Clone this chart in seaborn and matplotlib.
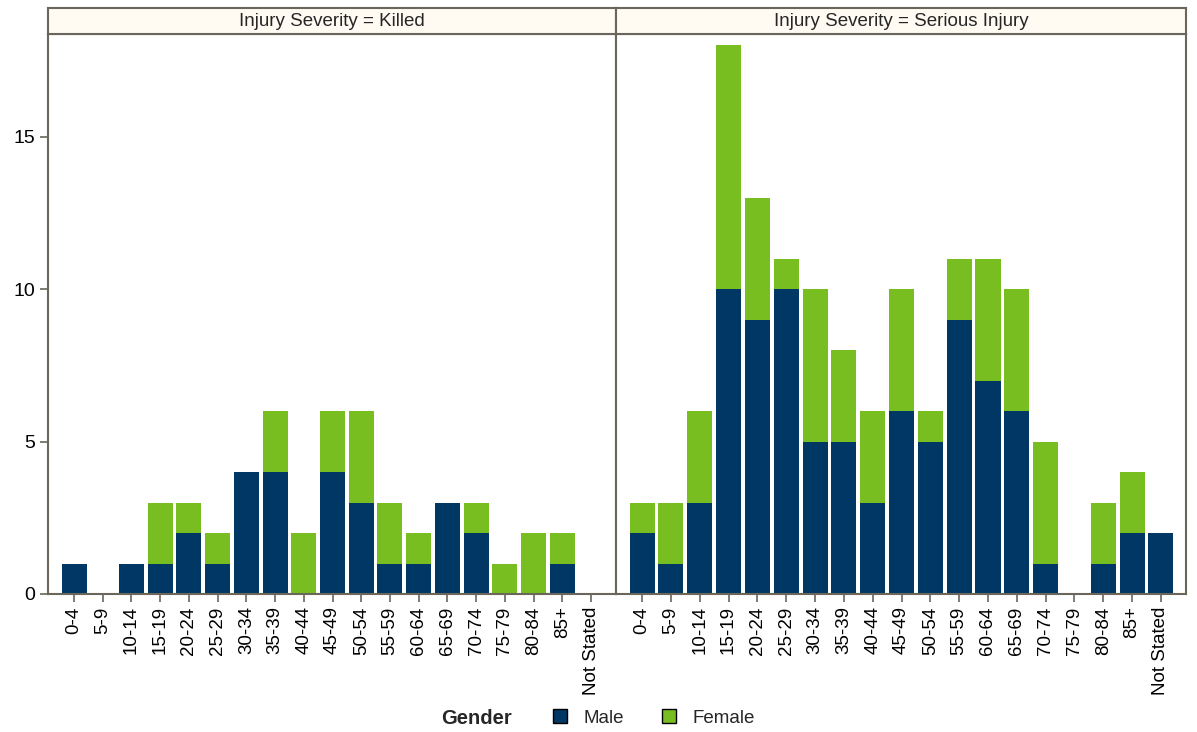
import matplotlib
matplotlib.use("Agg")
import matplotlib.pyplot as plt
import seaborn as sns
import pandas as pd
from matplotlib.patches import Patch

age_groups = ["0-4", "5-9", "10-14", "15-19", "20-24", "25-29", "30-34", "35-39",
              "40-44", "45-49", "50-54", "55-59", "60-64", "65-69", "70-74", "75-79",
              "80-84", "85+", "Not Stated"]
killed_male = [1, 0, 1, 1, 2, 1, 4, 4, 0, 4, 3, 1, 1, 3, 2, 0, 0, 1, 0]
killed_female = [0, 0, 0, 2, 1, 1, 0, 2, 2, 2, 3, 2, 1, 0, 1, 1, 2, 1, 0]
serious_male = [2, 1, 3, 10, 9, 10, 5, 5, 3, 6, 5, 9, 7, 6, 1, 0, 1, 2, 2]
serious_female = [1, 2, 3, 8, 4, 1, 5, 3, 3, 4, 1, 2, 4, 4, 4, 0, 2, 2, 0]
panels = ["Killed", "Serious Injury"]

NAVY = "#003764"
GREEN = "#78BE20"
SPINE = "#6B665C"

sns.set_theme(style="white")
plt.rcParams["font.family"] = ["Liberation Sans", "DejaVu Sans"]

W, H = 1197, 732
fig = plt.figure(figsize=(W / 100, H / 100), dpi=100)

def fx(px):
    return px / W

def fy(py):
    return 1 - py / H

top_px, bot_px = 34, 594
lefts = [(48, 616), (616, 1186)]
data = [(killed_male, killed_female), (serious_male, serious_female)]

for i, ((l, r), (male, female), name) in enumerate(zip(lefts, data, panels)):
    ax = fig.add_axes([fx(l), fy(bot_px), fx(r - l), fy(top_px) - fy(bot_px)])
    df = pd.DataFrame({"Age": age_groups,
                       "Male": male,
                       "Total": [m + f for m, f in zip(male, female)]})
    sns.barplot(data=df, x="Age", y="Total", color=GREEN, saturation=1,
                width=0.87, ax=ax, order=age_groups, linewidth=0)
    sns.barplot(data=df, x="Age", y="Male", color=NAVY, saturation=1,
                width=0.87, ax=ax, order=age_groups, linewidth=0)
    ax.set_xlim(-0.906, 18.87)
    ax.set_ylim(0, 18.37)
    ax.set_xlabel("")
    ax.set_ylabel("")
    for s in ["left", "right", "bottom", "top"]:
        ax.spines[s].set_visible(True)
        ax.spines[s].set_color(SPINE)
        ax.spines[s].set_linewidth(1.5)
    ax.tick_params(axis="x", rotation=90, labelsize=13.5, length=6, width=1.2,
                   color=SPINE, bottom=True, pad=3)
    for lab in ax.get_xticklabels():
        lab.set_color("black")
    if i == 0:
        ax.set_yticks([0, 5, 10, 15])
        ax.set_yticklabels(["0", "5", "10", "15"])
        ax.tick_params(axis="y", labelsize=14, length=6, width=1.2,
                       color=SPINE, left=True, pad=3, labelcolor="black")
    else:
        ax.set_yticks([])
    ax.grid(False)

    # facet title box
    tax = fig.add_axes([fx(l), fy(top_px), fx(r - l), fy(8) - fy(top_px)])
    tax.set_xticks([])
    tax.set_yticks([])
    tax.set_facecolor("#FFFAF2")
    for s in tax.spines.values():
        s.set_color(SPINE)
        s.set_linewidth(1.5)
    tax.text(0.5, 0.5, f"Injury Severity = {name}", ha="center", va="center",
             fontsize=13.5, transform=tax.transAxes)

fig.text(fx(476), fy(718), "Gender", ha="center", va="center",
         fontsize=14.5, fontweight="bold")
handles = [Patch(facecolor=NAVY, edgecolor="black", linewidth=1),
           Patch(facecolor=GREEN, edgecolor="black", linewidth=1)]
fig.legend(handles, ["Male", "Female"], loc="center", ncol=2,
           bbox_to_anchor=(fx(654), fy(718)), frameon=False, fontsize=13.5,
           handlelength=0.75, handleheight=0.75, columnspacing=2.0, handletextpad=0.9)

fig.savefig("out.png", dpi=100, facecolor="white")
